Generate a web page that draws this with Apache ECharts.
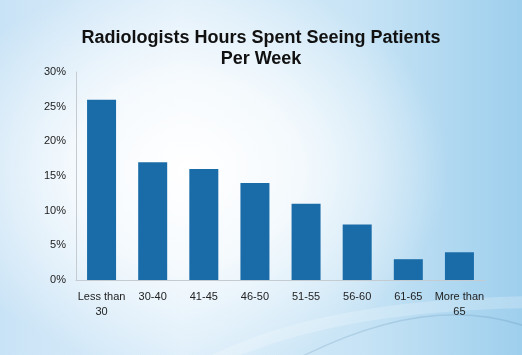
<!DOCTYPE html>
<html>
<head>
    <meta charset="UTF-8">
    <title>Radiologists Hours</title>
    <script type="text/javascript" src="https://cdn.jsdelivr.net/npm/echarts@6/dist/echarts.min.js"></script>
    <style>
        html, body { margin: 0; padding: 0; }
        #main {
            width: 522px; height: 355px;
            background:
                radial-gradient(ellipse 260px 200px at 36% 48%, rgba(255,255,255,1) 0%, rgba(255,255,255,0.75) 45%, rgba(255,255,255,0) 100%),
                linear-gradient(to right, #c9e3f6 0%, #ddeefa 35%, #c6e3f5 70%, #9ecfed 100%);
        }
    </style>
</head>
<body>
<div id="main"></div>
<script type="text/javascript">
    // data
    var categories = ['Less than\n30', '30-40', '41-45', '46-50', '51-55', '56-60', '61-65', 'More than\n65'];
    var shares = [26, 17, 16, 14, 11, 8, 3, 4];

    var myChart = echarts.init(document.getElementById('main'));

    var option = {
        backgroundColor: 'transparent',
        // faint swooshes of the slide background
        graphic: [
            {
                type: 'bezierCurve', silent: true, z: -1,
                shape: {x1: 205, y1: 365, x2: 530, y2: 302, cpx1: 320, cpy1: 305},
                style: {stroke: 'rgba(255,255,255,0.22)', lineWidth: 12, fill: null}
            },
            {
                type: 'bezierCurve', silent: true, z: -1,
                shape: {x1: 295, y1: 360, x2: 530, y2: 328, cpx1: 430, cpy1: 290},
                style: {stroke: 'rgba(70,120,160,0.18)', lineWidth: 1.5, fill: null}
            }
        ],
        title: {
            text: 'Radiologists Hours Spent Seeing Patients\nPer Week',
            left: 256,
            top: 23,
            textAlign: 'center',
            textStyle: {
                fontFamily: 'Liberation Sans',
                fontSize: 18,
                fontWeight: 'bold',
                color: '#111',
                lineHeight: 21
            }
        },
        grid: {left: 76, right: 37, top: 72, bottom: 75},
        xAxis: {
            type: 'category',
            data: categories,
            axisLine: {lineStyle: {color: '#c4ccd2'}},
            axisTick: {show: false},
            axisLabel: {
                interval: 0,
                fontFamily: 'Liberation Sans',
                fontSize: 11,
                color: '#222',
                margin: 9,
                lineHeight: 15
            }
        },
        yAxis: {
            type: 'value',
            min: 0, max: 30, interval: 5,
            axisLine: {show: true, lineStyle: {color: '#c4ccd2'}},
            axisTick: {show: false},
            splitLine: {show: false},
            axisLabel: {
                formatter: '{value}%',
                fontFamily: 'Liberation Sans',
                fontSize: 11,
                color: '#222',
                margin: 10
            }
        },
        series: [{
            type: 'bar',
            data: shares,
            barWidth: 29,
            itemStyle: {color: '#1a6ca8'}
        }]
    };

    myChart.setOption(option);
</script>
</body>
</html>
